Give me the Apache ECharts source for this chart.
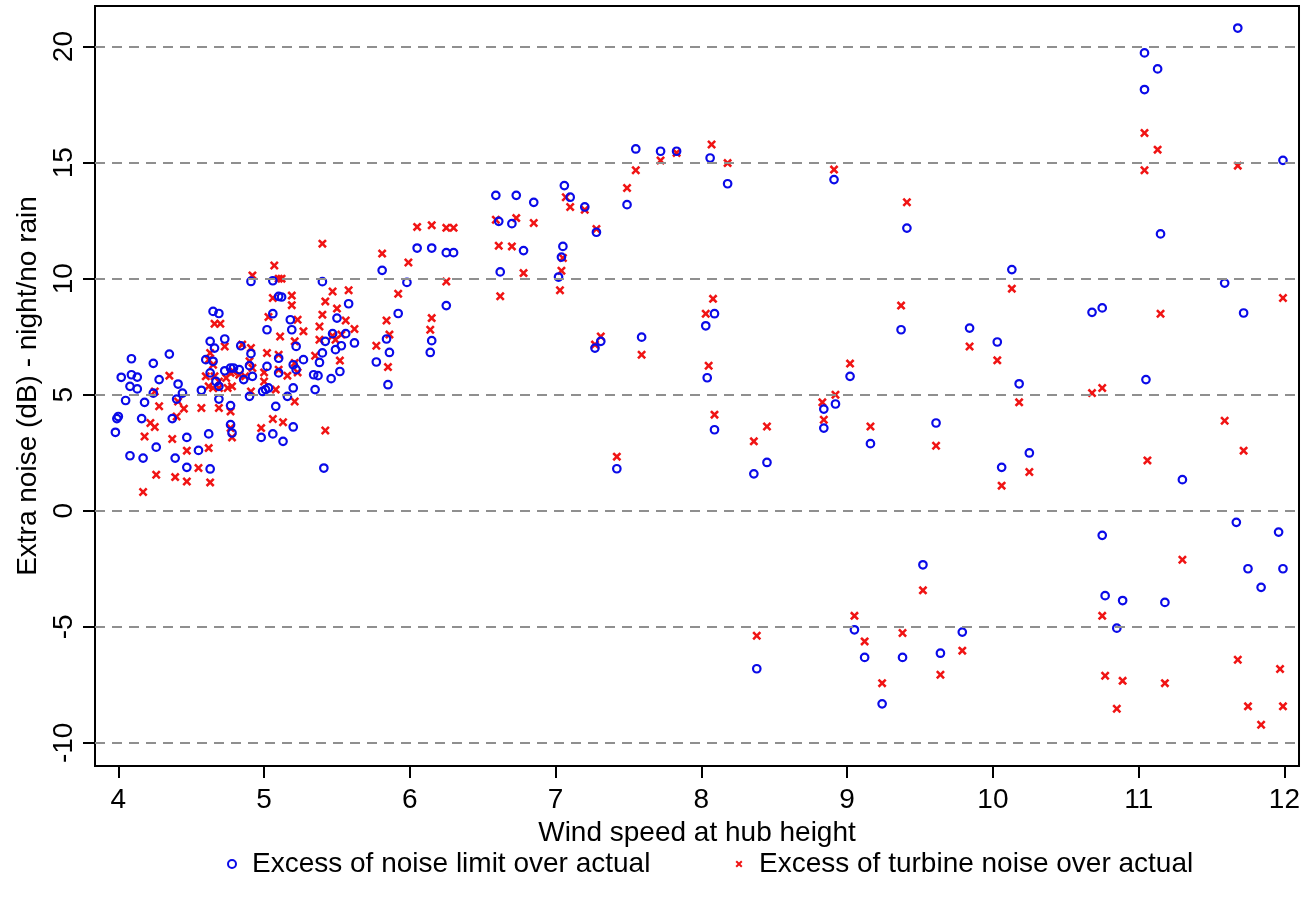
<!DOCTYPE html>
<html>
<head>
<meta charset="utf-8">
<script src="https://cdn.jsdelivr.net/npm/echarts@6/dist/echarts.min.js"></script>
<style>
html,body{margin:0;padding:0;background:#fff;}
#chart{width:1303px;height:908px;}
</style>
</head>
<body>
<div id="chart"></div>
<script>
// ---- data ----
const xTicks = [4, 5, 6, 7, 8, 9, 10, 11, 12];
const yTicks = [-10, -5, 0, 5, 10, 15, 20];
const xAxisTitle = 'Wind speed at hub height';
const yAxisTitle = 'Extra noise (dB) - night/no rain';
const seriesNames = ['Excess of noise limit over actual', 'Excess of turbine noise over actual'];

// blue circles: excess of noise limit over actual  [wind speed, dB]
const limitOverActual = [
  [4.09,6.55],[4.35,6.75],[4.24,6.35],[4.02,5.75],[4.09,5.86],[4.13,5.76],[4.28,5.65],[4.08,5.36],
  [4.13,5.25],[4.41,5.46],[4.44,5.07],[4.24,5.07],[4.05,4.75],[4.18,4.67],[4.40,4.81],[4.57,5.19],
  [4.60,6.51],[4.00,4.06],[3.99,3.97],[4.16,3.97],[4.37,3.97],[3.98,3.38],[4.26,2.74],[4.47,3.16],
  [4.62,3.31],[4.55,2.60],[4.08,2.37],[4.17,2.27],[4.39,2.27],[4.47,1.87],[4.63,1.80],
  [4.65,8.59],[4.69,8.50],[5.06,8.49],[5.02,7.80],[5.18,8.23],[5.19,7.80],[5.22,7.08],[4.63,7.30],
  [4.73,7.40],[4.66,7.01],[4.65,6.44],[4.63,5.94],[4.84,7.11],[4.91,6.77],[4.90,6.25],[5.02,6.22],
  [5.10,6.57],[5.10,5.94],[5.20,6.29],[5.22,6.08],[5.27,6.51],[5.34,5.86],[5.35,5.22],[5.20,5.29],
  [5.16,4.93],[4.73,6.03],[4.77,6.15],[4.79,6.15],[4.83,6.08],[4.86,5.65],[4.92,5.79],[4.67,5.57],
  [4.69,5.36],[4.99,5.14],[5.01,5.22],[5.03,5.29],[4.90,4.93],[4.69,4.81],[4.77,4.53],[5.08,4.50],
  [4.77,3.71],[4.78,3.35],[4.98,3.16],[5.06,3.31],[5.13,2.99],[5.20,3.61],[5.10,9.24],[5.12,9.21],
  [5.06,9.91],[4.91,9.88],[5.40,9.87],
  [5.58,8.92],[5.50,8.30],[5.47,7.63],[5.42,7.30],[5.49,6.94],[5.53,7.11],[5.56,7.63],[5.62,7.23],
  [5.40,6.80],[5.38,6.39],[5.37,5.82],[5.46,5.69],[5.52,6.00],[5.41,1.84],
  [5.81,10.36],[5.98,9.84],[5.92,8.50],[5.84,7.40],[5.86,6.82],[5.77,6.41],[5.85,5.43],[6.15,7.33],
  [6.14,6.82],[6.25,8.84],[6.05,11.32],[6.15,11.32],[6.25,11.12],[6.30,11.12],
  [6.59,13.59],[6.73,13.59],[6.85,13.29],[6.61,12.47],[6.70,12.37],[6.78,11.21],[6.62,10.29],[7.06,14.01],
  [7.10,13.51],[7.20,13.09],[7.28,12.00],[7.05,11.39],[7.04,10.93],[7.02,10.07],[7.31,7.30],[7.27,7.01],
  [7.59,7.48],[7.49,13.19],[7.55,15.59],[7.72,15.49],[7.83,15.49],[8.06,15.20],[8.18,14.09],[8.09,8.49],
  [8.03,7.97],[8.04,5.73],[8.09,3.49],[7.42,1.81],
  [8.91,14.27],[9.41,12.18],[10.13,10.39],[9.37,7.80],[9.84,7.87],[10.03,7.27],[9.02,5.79],[10.18,5.47],
  [8.84,4.38],[8.84,3.56],[8.92,4.60],[8.45,2.08],[8.36,1.59],[9.16,2.89],[9.61,3.78],[10.25,2.49],
  [10.06,1.87],[9.52,-2.33],[9.05,-5.13],[9.12,-6.32],[9.38,-6.32],[9.24,-8.32],[9.64,-6.14],[9.79,-5.23],
  [8.38,-6.81],
  [11.68,20.80],[11.04,19.73],[11.13,19.04],[11.04,18.15],[11.99,15.10],[11.15,11.93],[11.59,9.81],[10.68,8.55],
  [10.75,8.74],[11.72,8.52],[11.05,5.65],[11.30,1.34],[11.67,-0.50],[11.96,-0.92],[10.75,-1.06],[11.75,-2.50],
  [11.99,-2.50],[11.84,-3.30],[10.77,-3.66],[10.89,-3.87],[11.18,-3.95],[10.85,-5.06]
];

// red crosses: excess of turbine noise over actual  [wind speed, dB]
const turbineOverActual = [
  [4.35,5.82],[4.25,5.14],[4.28,4.50],[4.41,4.71],[4.45,4.40],[4.57,4.43],[4.40,4.06],[4.22,3.78],
  [4.25,3.61],[4.18,3.20],[4.37,3.09],[4.47,2.59],[4.62,2.70],[4.55,1.84],[4.26,1.55],[4.39,1.45],
  [4.47,1.26],[4.63,1.22],[4.17,0.81],
  [4.66,8.06],[4.70,8.06],[5.03,8.35],[5.06,9.17],[5.19,9.27],[5.19,8.86],[5.23,8.23],[5.27,7.73],
  [5.21,7.30],[5.11,7.51],[4.73,7.08],[4.63,6.80],[4.62,6.51],[4.65,6.29],[4.60,5.79],[4.85,7.16],
  [4.91,7.01],[4.90,6.44],[4.92,6.15],[5.02,6.80],[5.10,6.72],[5.00,5.96],[5.10,6.08],[5.16,5.82],
  [5.21,6.37],[5.23,5.96],[4.66,5.79],[4.62,5.36],[4.69,5.57],[4.74,5.72],[4.77,5.94],[4.79,6.00],
  [4.83,5.86],[4.87,5.79],[4.78,5.36],[4.75,5.29],[4.65,5.29],[4.69,5.29],[4.91,5.14],[5.00,5.57],
  [5.08,5.22],[4.69,4.43],[4.77,4.28],[5.21,4.71],[5.06,3.95],[5.13,3.81],[4.98,3.56],[4.77,3.56],
  [4.78,3.16],[4.92,10.14],[5.07,10.57],[5.10,10.00],[5.12,10.00],
  [5.40,11.51],[5.47,9.45],[5.58,9.50],[5.42,9.02],[5.50,8.71],[5.40,8.45],[5.38,7.94],[5.56,8.20],
  [5.62,7.83],[5.38,7.37],[5.47,7.54],[5.49,7.37],[5.53,7.59],[5.35,6.68],[5.52,6.47],[5.42,3.46],
  [5.81,11.08],[5.99,10.70],[5.92,9.35],[5.84,8.20],[5.86,7.59],[5.77,7.11],[5.85,6.19],[6.15,8.30],
  [6.14,7.80],[6.25,9.88],[6.05,12.23],[6.15,12.30],[6.25,12.19],[6.30,12.19],
  [6.59,12.54],[6.73,12.61],[6.85,12.40],[6.61,11.42],[6.70,11.39],[6.78,10.24],[6.62,9.24],[7.07,13.51],
  [7.10,13.09],[7.20,12.97],[7.28,12.14],[7.05,10.89],[7.04,10.34],[7.03,9.50],[7.31,7.51],[7.27,7.16],
  [7.59,6.72],[7.49,13.91],[7.55,14.67],[7.72,15.09],[7.83,15.42],[8.07,15.78],[8.18,14.98],[8.08,9.13],
  [8.03,8.49],[8.05,6.25],[8.09,4.14],[7.42,2.33],
  [8.91,14.70],[9.41,13.29],[10.13,9.57],[9.37,8.84],[9.84,7.08],[10.03,6.48],[9.02,6.34],[10.18,4.67],
  [8.83,4.67],[8.84,3.92],[8.92,5.00],[8.45,3.63],[8.36,2.99],[9.16,3.63],[9.61,2.80],[10.25,1.67],
  [10.06,1.08],[9.52,-3.43],[9.05,-4.53],[9.12,-5.63],[9.38,-5.27],[9.24,-7.43],[9.64,-7.07],[9.79,-6.03],
  [8.38,-5.39],
  [11.04,16.28],[11.13,15.56],[11.04,14.67],[11.68,14.87],[11.99,9.17],[11.15,8.49],[10.68,5.07],[10.75,5.29],
  [11.59,3.88],[11.72,2.59],[11.06,2.17],[11.30,-2.11],[10.75,-4.53],[11.68,-6.42],[11.97,-6.82],[10.77,-7.11],
  [10.89,-7.33],[11.18,-7.43],[10.85,-8.53],[11.75,-8.43],[11.99,-8.43],[11.84,-9.22]
];

// ---- styles ----
const FONT = "'Liberation Sans', Arial, sans-serif";
const BLUE = '#0a0ae8';
const RED = '#f01414';
const crossPath = 'path://M0,2L2,0L5,3L8,0L10,2L7,5L10,8L8,10L5,7L2,10L0,8L3,5Z';
const crossLegendPath = 'path://M0,0L0.01,0L0,0.01Z M30,8L29.99,8L30,7.99Z ' +
  'M11.5,1.9L12.9,0.5L15,2.6L17.1,0.5L18.5,1.9L16.4,4L18.5,6.1L17.1,7.5L15,5.4L12.9,7.5L11.5,6.1L13.6,4Z';

const chart = echarts.init(document.getElementById('chart'), null, {renderer: 'canvas'});

const option = {
  animation: false,
  backgroundColor: '#fff',
  textStyle: {fontFamily: FONT},
  grid: {left: 95, right: 2, top: 6, bottom: 142, show: true, borderColor: '#000', borderWidth: 2, backgroundColor: 'transparent'},
  legend: [
    {
      left: 222, top: 845, itemWidth: 30, itemHeight: 8, selectedMode: false,
      textStyle: {fontSize: 28, color: '#000', fontFamily: FONT},
      data: [{name: seriesNames[0], icon: 'circle', itemStyle: {color: '#fff', borderColor: BLUE, borderWidth: 2}}]
    },
    {
      left: 719, top: 845, itemWidth: 30, itemHeight: 8, selectedMode: false,
      textStyle: {fontSize: 28, color: '#000', fontFamily: FONT},
      data: [{name: seriesNames[1], icon: crossLegendPath, itemStyle: {color: RED, borderWidth: 0}}]
    }
  ],
  xAxis: {
    type: 'value', min: 3.84, max: 12.1,
    axisLine: {show: false, onZero: false},
    splitLine: {show: false},
    axisTick: {show: true, customValues: xTicks, length: 12, lineStyle: {color: '#000', width: 2}},
    axisLabel: {customValues: xTicks, fontSize: 28, color: '#000', margin: 20, fontFamily: FONT},
    name: xAxisTitle, nameLocation: 'middle', nameGap: 50,
    nameTextStyle: {fontSize: 28, color: '#000', fontFamily: FONT}
  },
  yAxis: {
    type: 'value', min: -11, max: 21.75,
    axisLine: {show: false, onZero: false},
    splitLine: {show: false},
    axisTick: {show: true, customValues: yTicks, length: 12, lineStyle: {color: '#000', width: 2}},
    axisLabel: {customValues: yTicks, rotate: 90, fontSize: 28, color: '#000', margin: 17, fontFamily: FONT},
    name: yAxisTitle, nameLocation: 'middle', nameGap: 51, nameRotate: 90,
    nameTextStyle: {fontSize: 28, color: '#000', fontFamily: FONT}
  },
  series: [
    {
      type: 'scatter', name: '__grid', data: [], z: 1, silent: true,
      markLine: {
        silent: true, symbol: ['none', 'none'], animation: false,
        label: {show: false},
        lineStyle: {color: '#8f8f8f', type: [10, 7], width: 2},
        emphasis: {disabled: true},
        data: yTicks.map(v => ({yAxis: v}))
      }
    },
    {
      type: 'scatter', name: seriesNames[0], data: limitOverActual, z: 3,
      symbol: 'circle', symbolSize: 7.5,
      itemStyle: {color: 'rgba(0,0,0,0)', borderColor: BLUE, borderWidth: 2.2, opacity: 1},
      emphasis: {disabled: true}
    },
    {
      type: 'scatter', name: seriesNames[1], data: turbineOverActual, z: 2,
      symbol: crossPath, symbolSize: 9,
      itemStyle: {color: RED, opacity: 1},
      emphasis: {disabled: true}
    }
  ]
};
chart.setOption(option);
</script>
</body>
</html>
